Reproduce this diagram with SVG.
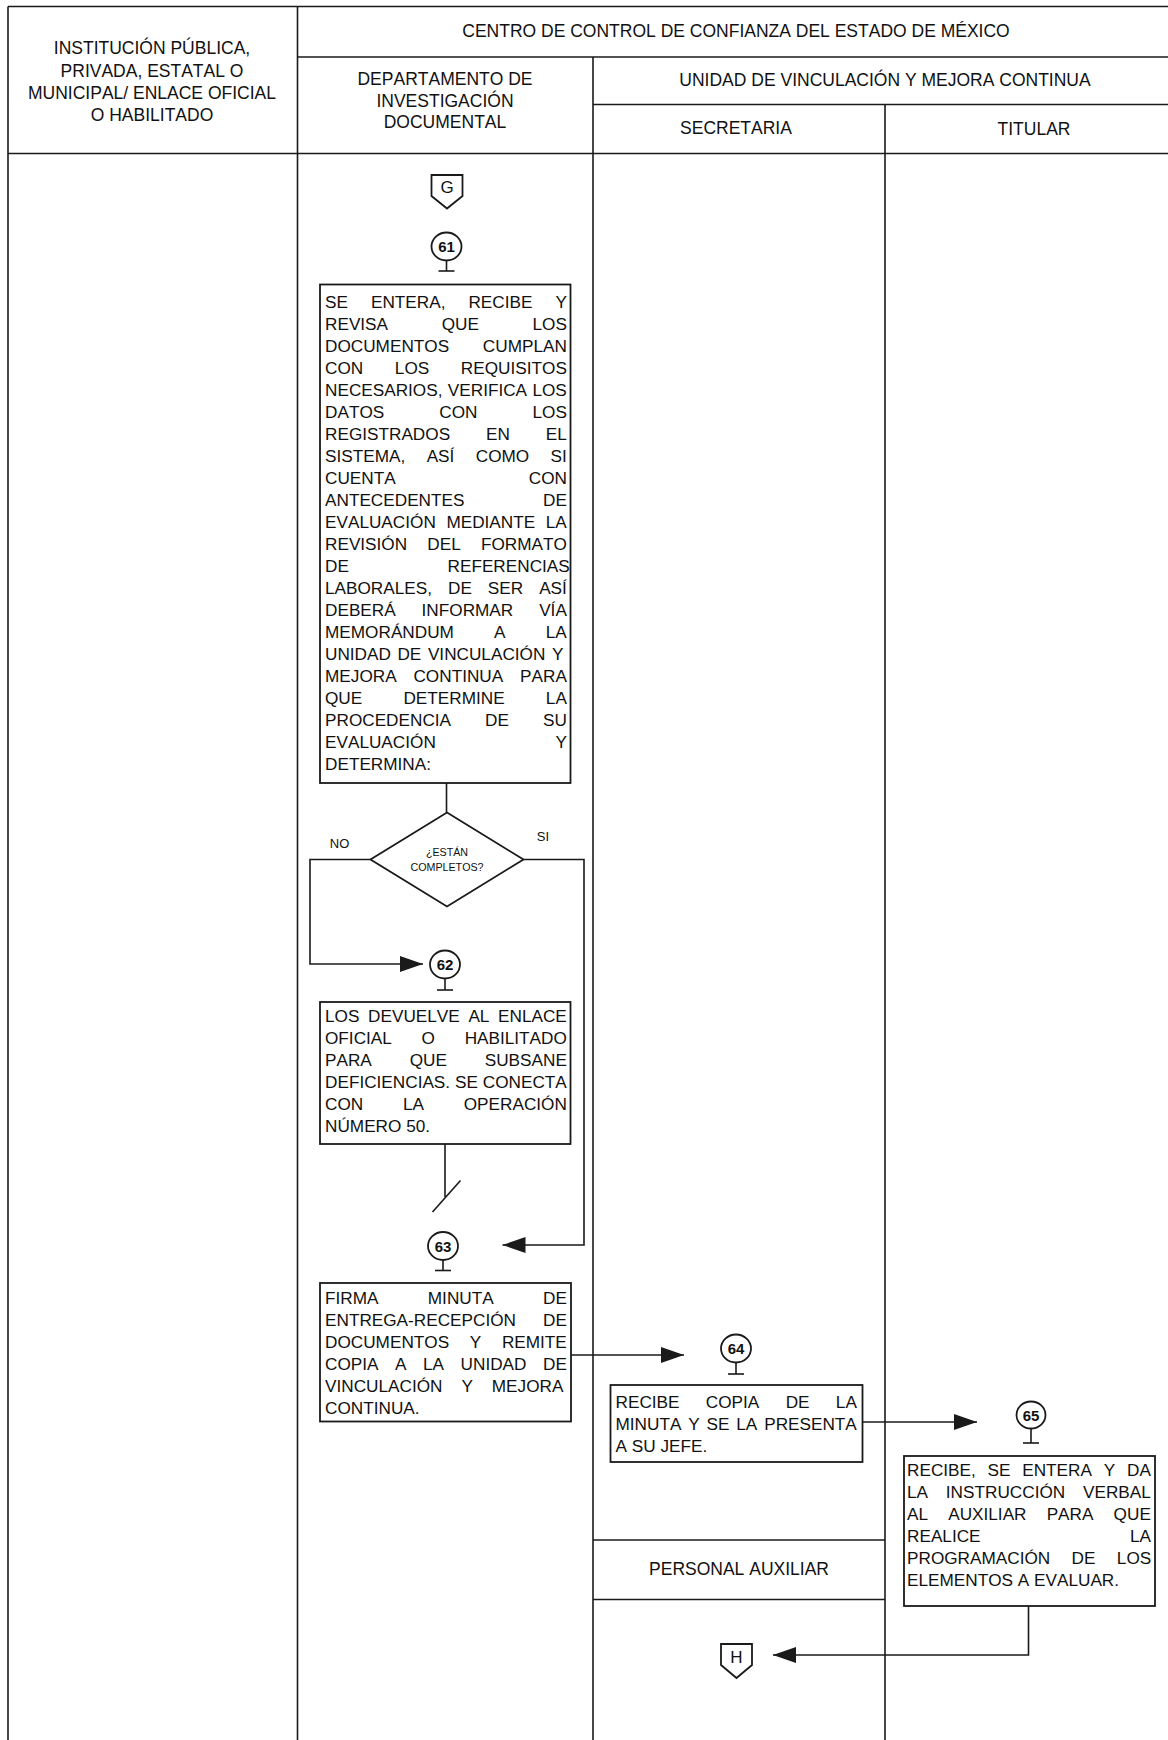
<svg xmlns="http://www.w3.org/2000/svg" width="1168" height="1740" viewBox="0 0 1168 1740">
<style>
.ln{stroke:#1a1a1a;stroke-width:1.6;fill:none}
.box{fill:#fff;stroke:#1a1a1a;stroke-width:1.8}
.t{font-family:"Liberation Sans",Arial,sans-serif;font-size:17.2px;fill:#111;font-kerning:none}
.h{font-size:17.5px;text-anchor:middle}
.c{text-anchor:middle}
.num{font-size:15px;font-weight:bold;text-anchor:middle}
.sm{font-size:10.7px;text-anchor:middle}
.yn{font-size:13px;text-anchor:middle}
.cn{font-size:17px;text-anchor:middle}
</style>
<defs>
<marker id="ah" markerUnits="userSpaceOnUse" markerWidth="24" markerHeight="17" refX="23" refY="8" orient="auto">
<path d="M0,0 L23,8 L0,16 Z" fill="#1a1a1a"/>
</marker>
</defs>
<rect width="1168" height="1740" fill="#fff"/>

<g id="lanes">
<line class="ln" x1="8" y1="6.5" x2="1168" y2="6.5"/>
<line class="ln" x1="8" y1="6.5" x2="8" y2="1740"/>
<line class="ln" x1="297.5" y1="6.5" x2="297.5" y2="1740"/>
<line class="ln" x1="297.5" y1="57" x2="1168" y2="57"/>
<line class="ln" x1="593" y1="57" x2="593" y2="1740"/>
<line class="ln" x1="593" y1="104.5" x2="1168" y2="104.5"/>
<line class="ln" x1="885" y1="104.5" x2="885" y2="1740"/>
<line class="ln" x1="8" y1="153.5" x2="1168" y2="153.5"/>
<line class="ln" x1="593" y1="1540" x2="885" y2="1540"/>
<line class="ln" x1="593" y1="1599.5" x2="885" y2="1599.5"/>
<g class="t h">
<text x="152" y="54.3">INSTITUCIÓN PÚBLICA,</text>
<text x="152" y="76.5">PRIVADA, ESTATAL O</text>
<text x="152" y="98.7">MUNICIPAL/ ENLACE OFICIAL</text>
<text x="152" y="120.9">O HABILITADO</text>
<text x="736" y="37.3">CENTRO DE CONTROL DE CONFIANZA DEL ESTADO DE MÉXICO</text>
<text x="445" y="84.8">DEPARTAMENTO DE</text>
<text x="445" y="106.5">INVESTIGACIÓN</text>
<text x="445" y="128.2">DOCUMENTAL</text>
<text x="885" y="86.3">UNIDAD DE VINCULACIÓN Y MEJORA CONTINUA</text>
<text x="736" y="134.3">SECRETARIA</text>
<text x="1034" y="135">TITULAR</text>
<text x="739" y="1575.3">PERSONAL AUXILIAR</text>
</g>
</g>

<g id="connectors">
<line class="ln" x1="446.5" y1="783" x2="446.5" y2="812.5"/>
<polyline class="ln" points="370.5,859.5 310,859.5 310,964 423,964" marker-end="url(#ah)"/>
<polyline class="ln" points="523.5,859.5 584,859.5 584,1245 502.5,1245" marker-end="url(#ah)"/>
<line class="ln" x1="445" y1="1144" x2="445" y2="1197"/>
<line class="ln" x1="432.5" y1="1212" x2="460.5" y2="1180.5"/>
<line class="ln" x1="571" y1="1355" x2="684" y2="1355" marker-end="url(#ah)"/>
<line class="ln" x1="862.5" y1="1422" x2="977" y2="1422" marker-end="url(#ah)"/>
<polyline class="ln" points="1028.5,1606 1028.5,1655 773,1655" marker-end="url(#ah)"/>
</g>

<g id="G">
<polygon class="box" points="431.5,175 462.5,175 462.5,196 447,208.5 431.5,196"/>
<text class="t cn" x="447" y="193">G</text>
</g>

<g id="c61">
<ellipse class="box" cx="446.5" cy="246.5" rx="15" ry="14"/>
<line class="ln" x1="446.5" y1="260.5" x2="446.5" y2="271"/>
<line class="ln" x1="438.5" y1="271" x2="454.5" y2="271"/>
<text class="t num" x="446.5" y="252">61</text>
</g>

<g id="b61">
<rect class="box" x="320" y="284.5" width="250.5" height="498.5"/>
<g class="t">
<text x="325" y="307.7" style="word-spacing:18.22px">SE ENTERA, RECIBE Y</text>
<text x="325" y="329.7" style="word-spacing:48.83px">REVISA QUE LOS</text>
<text x="325" y="351.7" style="word-spacing:28.91px">DOCUMENTOS CUMPLAN</text>
<text x="325" y="373.7" style="word-spacing:26.86px">CON LOS REQUISITOS</text>
<text x="325" y="395.7" style="word-spacing:0.57px">NECESARIOS, VERIFICA LOS</text>
<text x="325" y="417.7" style="word-spacing:50.27px">DATOS CON LOS</text>
<text x="325" y="439.7" style="word-spacing:31.16px">REGISTRADOS EN EL</text>
<text x="325" y="461.7" style="word-spacing:16.63px">SISTEMA, ASÍ COMO SI</text>
<text x="325" y="483.7" style="word-spacing:128.29px">CUENTA CON</text>
<text x="325" y="505.7" style="word-spacing:73.8px">ANTECEDENTES DE</text>
<text x="325" y="527.7" style="word-spacing:5.83px">EVALUACIÓN MEDIANTE LA</text>
<text x="325" y="549.7" style="word-spacing:15.39px">REVISIÓN DEL FORMATO</text>
<text x="325" y="571.7" style="word-spacing:93.86px">DE REFERENCIAS</text>
<text x="325" y="593.7" style="word-spacing:11.2px">LABORALES, DE SER ASÍ</text>
<text x="325" y="615.7" style="word-spacing:21.13px">DEBERÁ INFORMAR VÍA</text>
<text x="325" y="637.7" style="word-spacing:35.44px">MEMORÁNDUM A LA</text>
<text x="325" y="659.7" style="word-spacing:1.79px">UNIDAD DE VINCULACIÓN Y</text>
<text x="325" y="681.7" style="word-spacing:12.06px">MEJORA CONTINUA PARA</text>
<text x="325" y="703.7" style="word-spacing:36.42px">QUE DETERMINE LA</text>
<text x="325" y="725.7" style="word-spacing:29.26px">PROCEDENCIA DE SU</text>
<text x="325" y="747.7" style="word-spacing:114.87px">EVALUACIÓN Y</text>
<text x="325" y="769.7">DETERMINA:</text>
</g>
</g>

<g id="d1">
<polygon class="box" points="447,812.5 523.5,859.5 447,906.5 370.5,859.5"/>
<text class="t sm" x="447" y="855.5">¿ESTÁN</text>
<text class="t sm" x="447" y="870.5">COMPLETOS?</text>
<text class="t yn" x="339.5" y="847.5">NO</text>
<text class="t yn" x="543" y="841">SI</text>
</g>

<g id="c62">
<ellipse class="box" cx="445" cy="964.5" rx="15" ry="14"/>
<line class="ln" x1="445" y1="978.5" x2="445" y2="990"/>
<line class="ln" x1="437" y1="990" x2="453" y2="990"/>
<text class="t num" x="445" y="970">62</text>
</g>

<g id="b62">
<rect class="box" x="320" y="1002" width="250.5" height="142"/>
<g class="t">
<text x="325" y="1021.7" style="word-spacing:3.87px">LOS DEVUELVE AL ENLACE</text>
<text x="325" y="1043.7" style="word-spacing:24.94px">OFICIAL O HABILITADO</text>
<text x="325" y="1065.7" style="word-spacing:33.07px">PARA QUE SUBSANE</text>
<text x="325" y="1087.7" style="word-spacing:0.1px">DEFICIENCIAS. SE CONECTA</text>
<text x="325" y="1109.7" style="word-spacing:34.98px">CON LA OPERACIÓN</text>
<text x="325" y="1131.7">NÚMERO 50.</text>
</g>
</g>

<g id="c63">
<ellipse class="box" cx="443" cy="1246" rx="15" ry="14"/>
<line class="ln" x1="443" y1="1260" x2="443" y2="1270.5"/>
<line class="ln" x1="435" y1="1270.5" x2="451" y2="1270.5"/>
<text class="t num" x="443" y="1251.5">63</text>
</g>

<g id="b63">
<rect class="box" x="320" y="1283" width="251" height="138.5"/>
<g class="t">
<text x="325" y="1304.2" style="word-spacing:44.56px">FIRMA MINUTA DE</text>
<text x="325" y="1326.2" style="word-spacing:22.2px">ENTREGA-RECEPCIÓN DE</text>
<text x="325" y="1348.2" style="word-spacing:15.88px">DOCUMENTOS Y REMITE</text>
<text x="325" y="1370.2" style="word-spacing:11.76px">COPIA A LA UNIDAD DE</text>
<text x="325" y="1392.2" style="word-spacing:14.15px">VINCULACIÓN Y MEJORA</text>
<text x="325" y="1414.2">CONTINUA.</text>
</g>
</g>

<g id="c64">
<ellipse class="box" cx="736" cy="1348.5" rx="15" ry="14"/>
<line class="ln" x1="736" y1="1362.5" x2="736" y2="1374"/>
<line class="ln" x1="728" y1="1374" x2="744" y2="1374"/>
<text class="t num" x="736" y="1354">64</text>
</g>

<g id="b64">
<rect class="box" x="610.5" y="1385" width="252" height="77"/>
<g class="t">
<text x="615.5" y="1407.7" style="word-spacing:21.56px">RECIBE COPIA DE LA</text>
<text x="615.5" y="1429.7" style="word-spacing:2.07px">MINUTA Y SE LA PRESENTA</text>
<text x="615.5" y="1451.7">A SU JEFE.</text>
</g>
</g>

<g id="c65">
<ellipse class="box" cx="1031" cy="1415" rx="14.5" ry="13.5"/>
<line class="ln" x1="1031" y1="1428.5" x2="1031" y2="1443"/>
<line class="ln" x1="1023" y1="1443" x2="1039" y2="1443"/>
<text class="t num" x="1031" y="1420.5">65</text>
</g>

<g id="b65">
<rect class="box" x="904" y="1456" width="251" height="150"/>
<g class="t">
<text x="907" y="1476.2" style="word-spacing:7px">RECIBE, SE ENTERA Y DA</text>
<text x="907" y="1498.2" style="word-spacing:13.05px">LA INSTRUCCIÓN VERBAL</text>
<text x="907" y="1520.2" style="word-spacing:15.38px">AL AUXILIAR PARA QUE</text>
<text x="907" y="1542.2" style="word-spacing:144.58px">REALICE LA</text>
<text x="907" y="1564.2" style="word-spacing:16.58px">PROGRAMACIÓN DE LOS</text>
<text x="907" y="1586.2">ELEMENTOS A EVALUAR.</text>
</g>
</g>

<g id="H">
<polygon class="box" points="721,1644 752,1644 752,1665 736.5,1678 721,1665"/>
<text class="t cn" x="736.5" y="1662.5">H</text>
</g>
</svg>
